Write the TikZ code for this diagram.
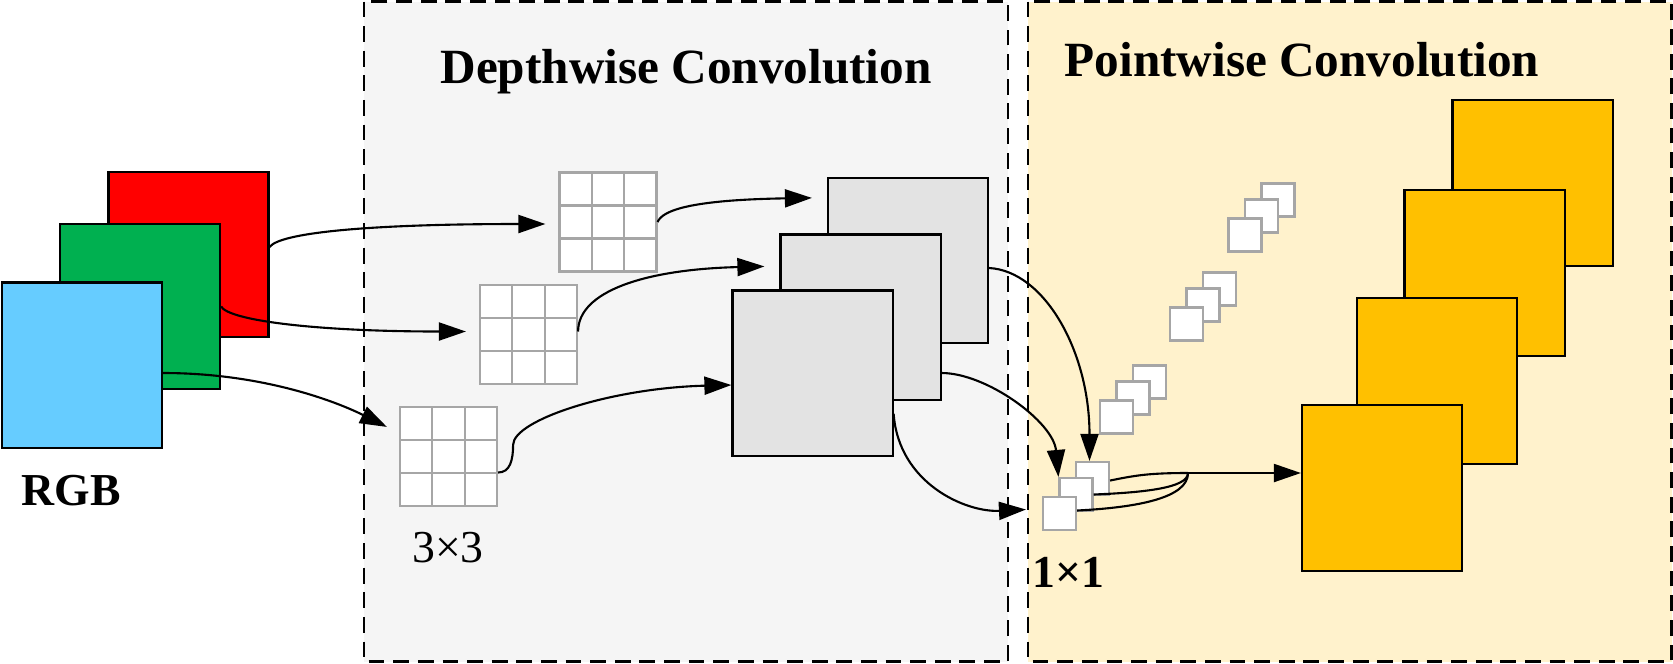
\documentclass[tikz,border=0pt]{standalone}
\usepackage{fontspec}
\setmainfont{Liberation Serif}
\usetikzlibrary{arrows.meta,calc}
\definecolor{chred}{HTML}{FF0000}
\definecolor{chgreen}{HTML}{00B050}
\definecolor{chblue}{HTML}{66CCFF}
\definecolor{mapgray}{HTML}{E3E3E3}
\definecolor{mapyellow}{HTML}{FFC000}
\definecolor{gridgray}{HTML}{A6A6A6}
\definecolor{dwfill}{HTML}{F5F5F5}
\definecolor{pwfill}{HTML}{FFF2CC}

\begin{document}
\begin{tikzpicture}[
    x=0.01cm, y=0.01cm,
    region/.style={draw, line width=0.8pt, dash pattern=on 4.5pt off 2.5pt},
    fmap/.style={draw, line width=0.6pt, minimum width=1.6cm, minimum height=1.65cm, inner sep=0pt},
    kernel/.style={draw=gridgray, fill=white, line width=0.6pt, minimum width=0.97cm,
      minimum height=0.99cm, inner sep=0pt,
      path picture={
        \foreach \f in {1,2} {
          \draw[gridgray, line width=0.6pt]
            ($(path picture bounding box.north west)!\f/3!(path picture bounding box.north east)$) --
            ($(path picture bounding box.south west)!\f/3!(path picture bounding box.south east)$);
          \draw[gridgray, line width=0.6pt]
            ($(path picture bounding box.north west)!\f/3!(path picture bounding box.south west)$) --
            ($(path picture bounding box.north east)!\f/3!(path picture bounding box.south east)$);
        }
      }},
    unit/.style={draw=gridgray, fill=white, line width=0.6pt, minimum size=0.33cm, inner sep=0pt},
    arr/.style={-{Triangle[length=0.27cm, width=0.18cm]}, line width=0.6pt},
    link/.style={line width=0.6pt},
    title/.style={font=\fontsize{14}{16}\selectfont\bfseries, inner sep=0pt, anchor=base},
    lbl/.style={font=\fontsize{13}{15}\selectfont, inner sep=0pt, anchor=base}
  ]
  \useasboundingbox (0,0) rectangle (1673,-663);

  % Stage panels
  \draw[region, fill=dwfill] (364,-1.5) rectangle (1008,-661.5);
  \draw[region, fill=pwfill] (1028,-1.5) rectangle (1671.5,-661.5);
  \node[title] (dwtitle) at (686,-83) {Depthwise Convolution};
  \node[title] (pwtitle) at (1302,-76) {Pointwise Convolution};

  % Input channels
  \node[fmap, fill=chred]   (inR) at (188.5,-254.5) {};
  \node[fmap, fill=chgreen] (inG) at (140,-306.5) {};
  \node[fmap, fill=chblue]  (inB) at (82,-365) {};
  \node[title, font=\fontsize{13}{15}\selectfont\bfseries] (rgb) at (71.5,-505) {RGB};

  % Depthwise kernels
  \node[kernel] (kerR) at (608,-222) {};
  \node[kernel] (kerG) at (528.5,-334.5) {};
  \node[kernel] (kerB) at (448.5,-456.5) {};
  \node[lbl] (k3lbl) at (448,-562) {3×3};

  % Depthwise outputs
  \node[fmap, fill=mapgray] (dwR) at (908,-260.5) {};
  \node[fmap, fill=mapgray] (dwG) at (860.5,-317) {};
  \node[fmap, fill=mapgray] (dwB) at (812.5,-373) {};

  % 1x1 kernels, one stack per output channel
  \foreach \s/\x/\y in {1/1059.5/-513.5, 2/1116.5/-417, 3/1186.5/-324, 4/1245/-235} {
    \node[unit] (u\s c) at (\x+33,\y+35) {};
    \node[unit] (u\s b) at (\x+16.5,\y+19) {};
    \node[unit] (u\s a) at (\x,\y) {};
  }
  \node[lbl, font=\fontsize{13}{15}\selectfont\bfseries] (k1lbl) at (1068.5,-587) {1×1};

  % Pointwise outputs
  \node[fmap, fill=mapyellow, minimum height=1.66cm] (pw4) at (1532.5,-183) {};
  \node[fmap, fill=mapyellow, minimum height=1.66cm] (pw3) at (1484.5,-273) {};
  \node[fmap, fill=mapyellow, minimum height=1.66cm] (pw2) at (1437,-381) {};
  \node[fmap, fill=mapyellow, minimum height=1.66cm] (pw1) at (1382,-488) {};

  % Channels to kernels
  \draw[arr] ($(inR.east)+(0,7.5)$) .. controls +(10,14) and +(-180,0) .. ($(kerR.west)+(-13,-2)$);
  \draw[arr] (inG.east) .. controls +(8,-14) and +(-150,0) .. ($(kerG.west)+(-13,3)$);
  \draw[arr] ($(inB.east)+(0,-8)$) .. controls +(100,0) and +(-50,25) .. ($(kerB.north west)+(-12,-21)$);

  % Kernels to depthwise maps
  \draw[arr] (kerR.east) .. controls +(5,12) and +(-120,-2) .. ($(dwR.north west)+(-15,-21)$);
  \draw[arr] ($(kerG.east)+(0,3)$) .. controls +(0,40) and +(-120,-3) .. ($(dwG.north west)+(-15,-33)$);
  \draw[arr] ($(kerB.east)+(0,-16)$) .. controls +(12,0) and +(0,-15) .. ($(kerB.east)+(15,11.5)$)
    .. controls +(0,25) and +(-120,-3) .. ($(dwB.west)+(0,-12)$);

  % Depthwise maps to 1x1 kernels
  \draw[arr] ($(dwR.east)+(0,-7.5)$) .. controls +(55,-3) and +(0,110) .. ($(u1c.north)+(-3,0)$);
  \draw[arr] ($(dwG.east)+(0,-56)$) .. controls +(45,0) and +(-5,55) .. (u1b.north west);
  \draw[arr] ($(dwB.south east)+(0,43)$) .. controls +(5,-70) and +(-60,-3) .. ($(u1a.west)+(-16,4)$);

  % Combine into one output channel
  \coordinate (merge) at (1188,-473);
  \draw[link] ($(u1a.east)+(0,3)$) .. controls +(60,3) and +(0,-25) .. (merge);
  \draw[link] (u1b.east) .. controls +(50,2) and +(0,-15) .. (merge);
  \draw[link] ($(u1c.east)+(0,-2)$) .. controls +(25,5) and +(-40,0) .. (merge);
  \draw[arr] (merge) -- ($(pw1.west)+(0,15)$);
\end{tikzpicture}
\end{document}
